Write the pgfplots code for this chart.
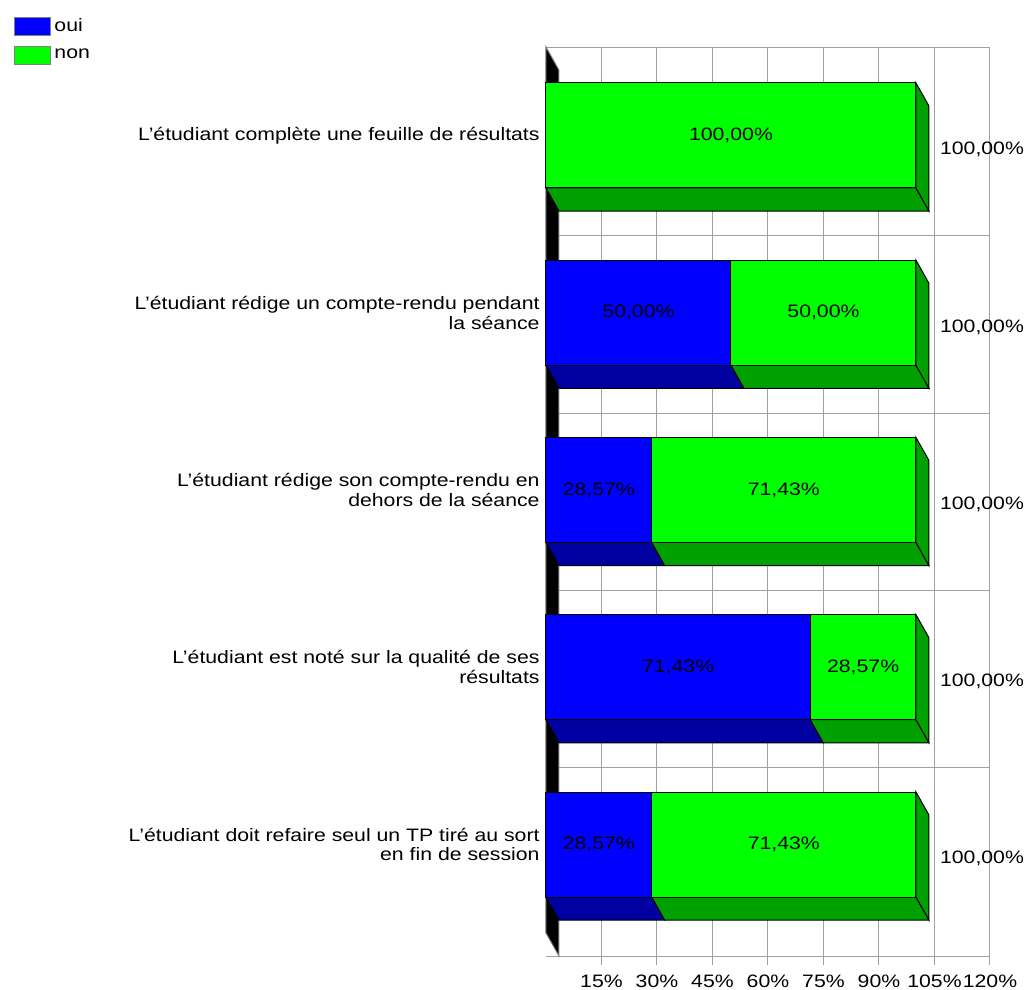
\documentclass[border=0pt]{standalone}
\usepackage{pgfplots}
\pgfplotsset{compat=1.18}
\usepackage{pgfplotstable}
\usepackage{fontspec}
\setmainfont{Liberation Sans}[FakeStretch=1.18]
\definecolor{bleu}{HTML}{0000FF}
\definecolor{vert}{HTML}{00FF00}
\definecolor{bleuf}{HTML}{0000A0}
\definecolor{vertf}{HTML}{00A000}
\definecolor{grille}{HTML}{A0A0A0}

\pgfplotstableread{
y oui non tot
0 0     100   100
1 50    50    100
2 28.57 71.43 100
3 71.43 28.57 100
4 28.57 71.43 100
}\data

% depth faces of one bar: #1 = row, #2 = oui, #3 = total
\newcommand\faces[3]{%
  \pgfmathsetmacro\yb{#1+0.2962}%
  \pgfmathsetmacro\ybb{#1+0.4262}%
  \pgfmathsetmacro\yt{#1-0.2962}%
  \pgfmathsetmacro\ytt{#1-0.1662}%
  \pgfmathsetmacro\xa{#2+3.5}%
  \pgfmathsetmacro\xb{#3+3.5}%
  \addplot[fill=bleuf, draw=black, line width=0.5pt, forget plot] coordinates {(0,\yb) (#2,\yb) (\xa,\ybb) (3.5,\ybb)} -- cycle;
  \addplot[fill=vertf, draw=black, line width=0.5pt, forget plot] coordinates {(#2,\yb) (#3,\yb) (\xb,\ybb) (\xa,\ybb)} -- cycle;
  \addplot[fill=vertf, draw=black, line width=0.5pt, forget plot] coordinates {(#3,\yt) (\xb,\ytt) (\xb,\ybb) (#3,\yb)} -- cycle;
}

\begin{document}
\begin{tikzpicture}
\fontsize{9}{9.8}\selectfont
\useasboundingbox (-273pt,-17pt) rectangle (241.5pt,478pt);
\begin{axis}[
  at={(0pt,0pt)}, anchor=south west,
  scale only axis, width=222pt, height=454.5pt,
  xmin=0, xmax=120, ymin=-0.499, ymax=4.629, y dir=reverse,
  axis line style={draw=none},
  xtick={15,30,...,120},
  xticklabels={15\%,30\%,45\%,60\%,75\%,90\%,105\%,120\%},
  xticklabel style={yshift=-1.8pt},
  xmajorgrids, grid style={grille, line width=0.5pt},
  tick align=outside, xtick pos=bottom, ytick pos=left, major tick length=4.5pt,
  x tick style={grille, line width=0.5pt},
  ytick={0,1,2,3,4}, y tick style={draw=none},
  yticklabels={{L’étudiant complète une feuille de résultats},
    {L’étudiant rédige un compte-rendu pendant\\la séance},
    {L’étudiant rédige son compte-rendu en\\dehors de la séance},
    {L’étudiant est noté sur la qualité de ses\\résultats},
    {L’étudiant doit refaire seul un TP tiré au sort\\en fin de session}},
  yticklabel style={align=right, xshift=4.5pt},
  extra y ticks={-0.499,0.567,1.567,2.567,3.567,4.629},
  extra y tick labels={},
  extra y tick style={grid=major},
  clip=false,
  legend style={at={(-1.198,1.0352)}, anchor=north west, draw=none, fill=none,
    inner sep=0pt, row sep=4.2pt, nodes={inner sep=1.5pt}},
  legend cell align=left,
  legend image code/.code={\draw[#1, draw=gray, line width=0.5pt] (0pt,-4.5pt) rectangle (18pt,4.5pt);},
]
\addlegendimage{fill=bleu}
\addlegendentry{oui}
\addlegendimage{fill=vert}
\addlegendentry{non}

% left wall
\addplot[fill=black, draw=gray, line width=0.5pt, forget plot] coordinates {(0,-0.499) (3.5,-0.369) (3.5,4.629) (0,4.499)} -- cycle;

% depth faces
\faces{0}{0}{100}
\faces{1}{50}{100}
\faces{2}{28.57}{100}
\faces{3}{71.43}{100}
\faces{4}{28.57}{100}

% front faces
\addplot[xbar, bar shift=0pt, bar width=0.5924, fill=vert, draw=black, line width=0.5pt, forget plot]
  table[x=tot, y=y] {\data};
\addplot[xbar, bar shift=0pt, bar width=0.5924, fill=bleu, draw=black, line width=0.5pt, forget plot]
  table[x=oui, y=y] {\data};

% value labels
\addplot[draw=none, forget plot, nodes near coords, point meta=explicit symbolic,
  nodes near coords align=center] table[x=x, y=y, meta=lab] {
x y lab
50 0 100,00\%
25 1 50,00\%
75 1 50,00\%
14.285 2 28,57\%
64.285 2 71,43\%
35.715 3 71,43\%
85.715 3 28,57\%
14.285 4 28,57\%
64.285 4 71,43\%
117.84 0.08 100,00\%
117.84 1.08 100,00\%
117.84 2.08 100,00\%
117.84 3.08 100,00\%
117.84 4.08 100,00\%
};
\end{axis}
\end{tikzpicture}
\end{document}
